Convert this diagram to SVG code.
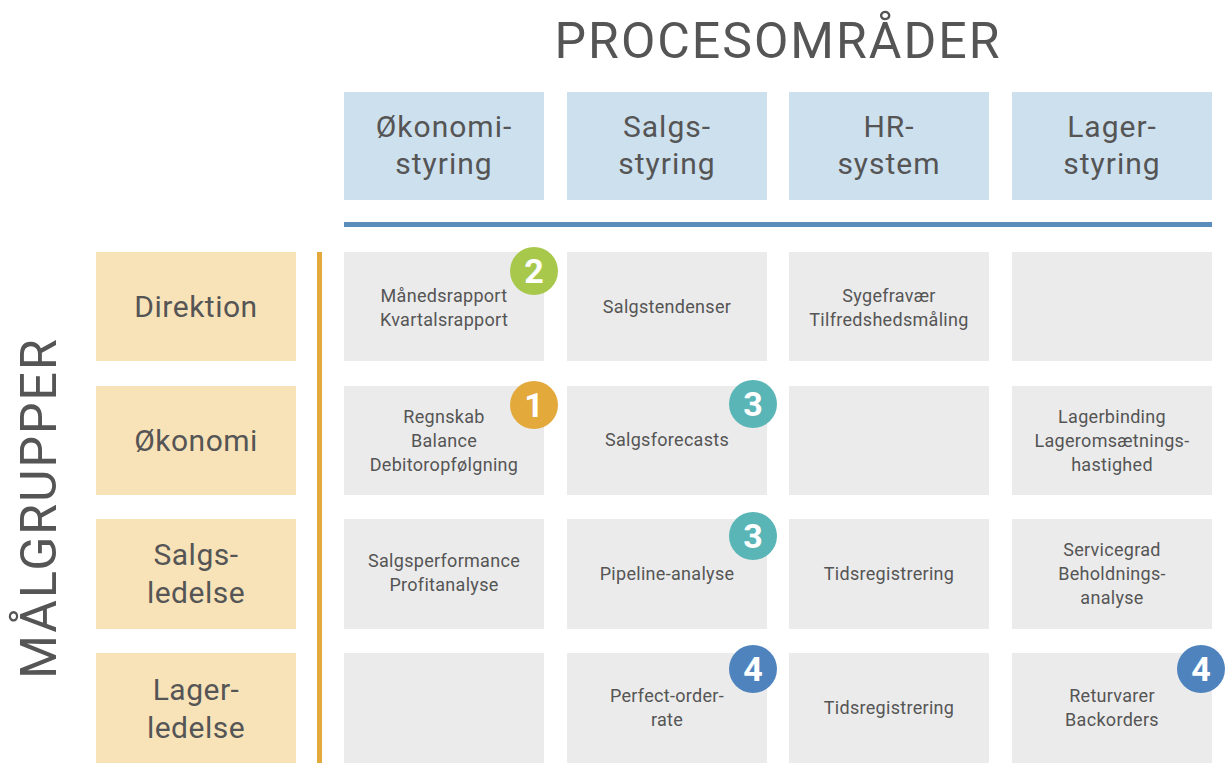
<svg xmlns="http://www.w3.org/2000/svg" width="1229" height="767" viewBox="0 0 1229 767">
<style>
.h{fill:#cde0ee}.l{fill:#f8e3b8}.c{fill:#ebebeb}
text{font-family:Roboto,"Liberation Sans",sans-serif;fill:#555;text-anchor:middle}
.ht{font-size:30px;letter-spacing:1px}.lt{font-size:30px;letter-spacing:0.5px}.ct{font-size:18px;letter-spacing:0.3px}
.n{font-size:34px;font-weight:bold;fill:#fff}
</style>
<rect width="1229" height="767" fill="#fff"/>
<text x="778" y="58" style="font-size:50px;letter-spacing:2px">PROCESOMRÅDER</text>
<text transform="translate(56,508) rotate(-90)" style="font-size:50px;letter-spacing:2px">MÅLGRUPPER</text>
<g id="headers">
<rect class="h" x="344" y="92" width="200" height="108"/><text class="ht" x="444" y="137">Økonomi-</text><text class="ht" x="444" y="174">styring</text>
<rect class="h" x="567" y="92" width="200" height="108"/><text class="ht" x="667" y="137">Salgs-</text><text class="ht" x="667" y="174">styring</text>
<rect class="h" x="789" y="92" width="200" height="108"/><text class="ht" x="889" y="137">HR-</text><text class="ht" x="889" y="174">system</text>
<rect class="h" x="1012" y="92" width="200" height="108"/><text class="ht" x="1112" y="137">Lager-</text><text class="ht" x="1112" y="174">styring</text>
</g>
<g id="lines">
<rect x="344" y="222" width="868" height="5" fill="#5b8dbb"/>
<rect x="317" y="252" width="5" height="511" fill="#e3a93a"/>
</g>
<g id="rows">
<rect class="l" x="96" y="252" width="200" height="109"/><text class="lt" x="196" y="317">Direktion</text>
<rect class="l" x="96" y="386" width="200" height="109"/><text class="lt" x="196" y="451">Økonomi</text>
<rect class="l" x="96" y="519" width="200" height="110"/><text class="lt" x="196" y="565">Salgs-</text><text class="lt" x="196" y="603">ledelse</text>
<rect class="l" x="96" y="653" width="200" height="110"/><text class="lt" x="196" y="700">Lager-</text><text class="lt" x="196" y="738">ledelse</text>
</g>
<g id="cells">
<rect class="c" x="344" y="252" width="200" height="109"/><text class="ct" x="444" y="302">Månedsrapport</text><text class="ct" x="444" y="326">Kvartalsrapport</text>
<rect class="c" x="567" y="252" width="200" height="109"/><text class="ct" x="667" y="313">Salgstendenser</text>
<rect class="c" x="789" y="252" width="200" height="109"/><text class="ct" x="889" y="302">Sygefravær</text><text class="ct" x="889" y="326">Tilfredshedsmåling</text>
<rect class="c" x="1012" y="252" width="200" height="109"/>
<rect class="c" x="344" y="386" width="200" height="109"/><text class="ct" x="444" y="423">Regnskab</text><text class="ct" x="444" y="447">Balance</text><text class="ct" x="444" y="471">Debitoropfølgning</text>
<rect class="c" x="567" y="386" width="200" height="109"/><text class="ct" x="667" y="446">Salgsforecasts</text>
<rect class="c" x="789" y="386" width="200" height="109"/>
<rect class="c" x="1012" y="386" width="200" height="109"/><text class="ct" x="1112" y="423">Lagerbinding</text><text class="ct" x="1112" y="447">Lageromsætnings-</text><text class="ct" x="1112" y="471">hastighed</text>
<rect class="c" x="344" y="519" width="200" height="110"/><text class="ct" x="444" y="567">Salgsperformance</text><text class="ct" x="444" y="591">Profitanalyse</text>
<rect class="c" x="567" y="519" width="200" height="110"/><text class="ct" x="667" y="580">Pipeline-analyse</text>
<rect class="c" x="789" y="519" width="200" height="110"/><text class="ct" x="889" y="580">Tidsregistrering</text>
<rect class="c" x="1012" y="519" width="200" height="110"/><text class="ct" x="1112" y="556">Servicegrad</text><text class="ct" x="1112" y="580">Beholdnings-</text><text class="ct" x="1112" y="604">analyse</text>
<rect class="c" x="344" y="653" width="200" height="110"/>
<rect class="c" x="567" y="653" width="200" height="110"/><text class="ct" x="667" y="702">Perfect-order-</text><text class="ct" x="667" y="726">rate</text>
<rect class="c" x="789" y="653" width="200" height="110"/><text class="ct" x="889" y="714">Tidsregistrering</text>
<rect class="c" x="1012" y="653" width="200" height="110"/><text class="ct" x="1112" y="702">Returvarer</text><text class="ct" x="1112" y="726">Backorders</text>
</g>
<g id="badges">
<circle cx="534" cy="271" r="24" fill="#a8c84c"/><text class="n" x="534" y="283">2</text>
<circle cx="534" cy="405" r="24" fill="#e3a93a"/><text class="n" x="534" y="417">1</text>
<circle cx="753" cy="404" r="24" fill="#5ab5b6"/><text class="n" x="753" y="416">3</text>
<circle cx="753" cy="536" r="24" fill="#5ab5b6"/><text class="n" x="753" y="548">3</text>
<circle cx="753" cy="669" r="24" fill="#4f83bd"/><text class="n" x="753" y="681">4</text>
<circle cx="1201" cy="669" r="24" fill="#4f83bd"/><text class="n" x="1201" y="681">4</text>
</g>
</svg>
